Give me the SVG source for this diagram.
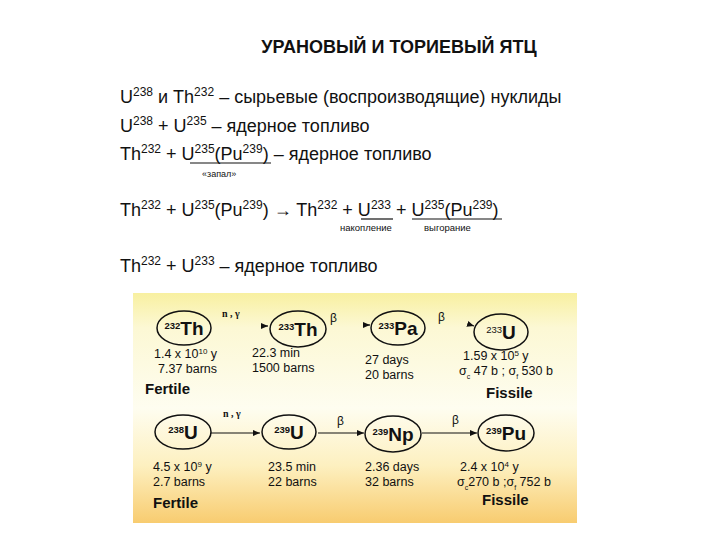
<svg xmlns="http://www.w3.org/2000/svg" width="720" height="540" viewBox="0 0 720 540">
<style>
text{font-family:"Liberation Sans",Arial,sans-serif;fill:#111}
.t{font-size:18px}
.s{font-size:12px}
.q{font-size:9.5px;font-weight:bold}
.p{font-size:12.5px}
.n{font-size:19px;font-weight:bold}
.b{font-weight:bold;font-size:15px}
.g{font-size:10px;font-family:"Liberation Serif",serif;font-weight:bold}
ellipse{fill:none;stroke:#111;stroke-width:1.5}
.ln{stroke:#111;stroke-width:1.2;fill:none}
</style>
<defs>
<linearGradient id="bg" x1="0" y1="0" x2="0" y2="1">
<stop offset="0" stop-color="#f8f0a0"/><stop offset="0.15" stop-color="#fcf8d4"/><stop offset="0.5" stop-color="#fefdf0"/><stop offset="0.75" stop-color="#fdf0c0"/><stop offset="1" stop-color="#f8cc70"/>
</linearGradient>
<marker id="a" markerWidth="8" markerHeight="8" refX="7" refY="4" orient="auto" markerUnits="userSpaceOnUse"><path d="M0,1 L7,4 L0,7 z" fill="#111"/></marker>
</defs>
<text x="399" y="53" text-anchor="middle" style="font-size:18px;font-weight:bold">УРАНОВЫЙ И ТОРИЕВЫЙ ЯТЦ</text>
<text class="t" x="120" y="103">U<tspan class="s" baseline-shift="super">238</tspan> и Th<tspan class="s" baseline-shift="super">232</tspan> – сырьевые (воспроизводящие) нуклиды</text>
<text class="t" x="120" y="132">U<tspan class="s" baseline-shift="super">238</tspan> + U<tspan class="s" baseline-shift="super">235</tspan> – ядерное топливо</text>
<text class="t" x="120" y="160">Th<tspan class="s" baseline-shift="super">232</tspan> + U<tspan class="s" baseline-shift="super">235</tspan>(Pu<tspan class="s" baseline-shift="super">239</tspan>) – ядерное топливо</text>
<line class="ln" x1="190" y1="163" x2="271" y2="163"/>
<text x="202" y="177" style="font-size:9px">«запал»</text>
<text class="t" x="120" y="216">Th<tspan class="s" baseline-shift="super">232</tspan> + U<tspan class="s" baseline-shift="super">235</tspan>(Pu<tspan class="s" baseline-shift="super">239</tspan>) → Th<tspan class="s" baseline-shift="super">232</tspan> + U<tspan class="s" baseline-shift="super">233</tspan> + U<tspan class="s" baseline-shift="super">235</tspan>(Pu<tspan class="s" baseline-shift="super">239</tspan>)</text>
<line class="ln" x1="361" y1="219" x2="393" y2="219"/>
<line class="ln" x1="412" y1="219" x2="502" y2="219"/>
<text x="340" y="231" style="font-size:9.5px">накопление</text>
<text x="424" y="231" style="font-size:9.5px">выгорание</text>
<text class="t" x="120" y="272">Th<tspan class="s" baseline-shift="super">232</tspan> + U<tspan class="s" baseline-shift="super">233</tspan> – ядерное топливо</text>
<rect x="133" y="293" width="444" height="230" fill="url(#bg)"/>
<g id="connectors">
<line class="ln" x1="262" y1="326" x2="268" y2="326" marker-end="url(#a)"/>
<line class="ln" x1="364" y1="325" x2="370" y2="325" marker-end="url(#a)"/>
<line class="ln" x1="468" y1="324" x2="474" y2="326" marker-end="url(#a)"/>
<line class="ln" x1="211" y1="433" x2="260" y2="433" marker-end="url(#a)"/>
<line class="ln" x1="318" y1="433" x2="364" y2="433" marker-end="url(#a)"/>
<line class="ln" x1="422" y1="433" x2="477" y2="433" marker-end="url(#a)"/>
<text class="g" x="222" y="317">n , γ</text>
<text x="330" y="322" style="font-size:12px">β</text>
<text x="438" y="321" style="font-size:12px">β</text>
<text class="g" x="223" y="417">n , γ</text>
<text x="337" y="425" style="font-size:12px">β</text>
<text x="452" y="424" style="font-size:12px">β</text>
</g>
<g id="th232"><ellipse cx="184" cy="328" rx="27" ry="17"/><text x="184" y="335" text-anchor="middle" class="n"><tspan class="q" baseline-shift="60%">232</tspan>Th</text>
<text class="p" x="154" y="358">1.4 x 10<tspan style="font-size:8px" baseline-shift="super">10</tspan> y</text><text class="p" x="158" y="373">7.37 barns</text><text class="b" x="145" y="394">Fertile</text></g>
<g id="th233"><ellipse cx="298" cy="329" rx="28" ry="18"/><text x="298" y="336" text-anchor="middle" class="n"><tspan class="q" baseline-shift="60%">233</tspan>Th</text>
<text class="p" x="252" y="357">22.3 min</text><text class="p" x="252" y="372">1500 barns</text></g>
<g id="pa233"><ellipse cx="398" cy="328" rx="27" ry="17"/><text x="398" y="335" text-anchor="middle" class="n"><tspan class="q" baseline-shift="60%">233</tspan>Pa</text>
<text class="p" x="365" y="364">27 days</text><text class="p" x="365" y="379">20 barns</text></g>
<g id="u233"><ellipse cx="501" cy="332" rx="27" ry="18"/><text x="501" y="339" text-anchor="middle" class="n"><tspan class="q" style="font-weight:normal" baseline-shift="60%">233</tspan>U</text>
<text class="p" x="463" y="360">1.59 x 10<tspan style="font-size:8px" baseline-shift="super">5</tspan> y</text><text class="p" x="459" y="375">σ<tspan style="font-size:7px" baseline-shift="sub">c</tspan> 47 b ; σ<tspan style="font-size:7px" baseline-shift="sub">f</tspan> 530 b</text><text class="b" x="486" y="398">Fissile</text></g>
<g id="u238"><ellipse cx="183" cy="432" rx="28" ry="17"/><text x="183" y="439" text-anchor="middle" class="n"><tspan class="q" baseline-shift="60%">238</tspan>U</text>
<text class="p" x="153" y="471">4.5 x 10<tspan style="font-size:8px" baseline-shift="super">9</tspan> y</text><text class="p" x="153" y="486">2.7 barns</text><text class="b" x="153" y="508">Fertile</text></g>
<g id="u239"><ellipse cx="289" cy="432" rx="27" ry="17"/><text x="289" y="439" text-anchor="middle" class="n"><tspan class="q" baseline-shift="60%">239</tspan>U</text>
<text class="p" x="268" y="471">23.5 min</text><text class="p" x="268" y="486">22 barns</text></g>
<g id="np239"><ellipse cx="393" cy="434" rx="28" ry="18"/><text x="393" y="441" text-anchor="middle" class="n"><tspan class="q" baseline-shift="60%">239</tspan>Np</text>
<text class="p" x="365" y="471">2.36 days</text><text class="p" x="365" y="486">32 barns</text></g>
<g id="pu239"><ellipse cx="506" cy="433" rx="28" ry="18"/><text x="506" y="440" text-anchor="middle" class="n"><tspan class="q" baseline-shift="60%">239</tspan>Pu</text>
<text class="p" x="460" y="471">2.4 x 10<tspan style="font-size:8px" baseline-shift="super">4</tspan> y</text><text class="p" x="457" y="486">σ<tspan style="font-size:7px" baseline-shift="sub">c</tspan>270 b ;σ<tspan style="font-size:7px" baseline-shift="sub">f</tspan> 752 b</text><text class="b" x="482" y="505">Fissile</text></g>
</svg>
